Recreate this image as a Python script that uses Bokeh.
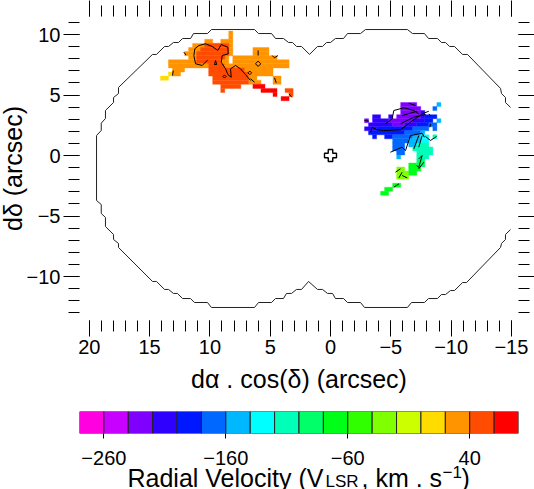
from bokeh.plotting import figure
from bokeh.layouts import column
from bokeh.models import (ColumnDataSource, FixedTicker, LinearAxis, LinearColorMapper,
                          Label, Range1d)
from bokeh.transform import transform
from bokeh.embed import file_html
from bokeh.resources import INLINE
import math

FONT = "Liberation Sans"

# colour scale
palette = ["#FF00E0", "#C800FF", "#7F00FF", "#3000FF", "#0018FF", "#0068FF", "#00B8FF", "#00FFFF", "#00FFB8",
           "#00FF68", "#00FF18", "#30FF00", "#80FF00", "#CCFF00", "#FFDC00", "#FF9400", "#FF4C00", "#FF0000"]
vel_edges = list(range(-280, 81, 20))
vel_ticks = [-260, -160, -60, 40]
vel_labels = ["\u2212260", "\u2212160", "\u221260", "40"]

# axes
x_major = [20, 15, 10, 5, 0, -5, -10, -15]
x_labels = ["20", "15", "10", "5", "0", "\u22125", "\u221210", "\u221215"]
x_minor = list(range(-15, 21))
y_major = [10, 5, 0, -5, -10]
y_labels = ["10", "5", "0", "\u22125", "\u221210"]
y_minor = list(range(-13, 12))

# synthesised beam / field outline (arcsec)
field_ra = [-14.93, -14.51, -14.51, -14.18, -14.10, -11.36, -10.95, -10.28, -9.87, -9.54, -9.20, -8.87, -8.13, -7.79,
            -6.80, -6.38, -2.90, -2.49, -1.41, -1.08, -0.41, 0.00, 0.33, 0.66, 1.08, 1.74, 2.40, 2.82, 3.15, 3.48,
            3.90, 4.56, 4.89, 5.97, 6.30, 9.87, 10.20, 11.36, 11.60, 12.27, 12.60, 13.02, 13.43, 13.76, 14.43, 14.76,
            17.58, 17.58, 17.99, 17.99, 18.66, 18.66, 19.01, 19.01, 19.40, 19.40, 19.01, 19.01, 18.66, 18.66, 17.99,
            17.99, 17.58, 17.58, 14.76, 14.43, 13.76, 13.43, 13.02, 12.69, 12.27, 11.61, 11.28, 10.20, 9.87, 6.30,
            5.97, 4.89, 4.56, 3.90, 3.65, 3.23, 2.82, 2.40, 1.82, 1.08, 0.66, 0.25, -0.17, -0.41, -1.08, -1.41, -2.49,
            -2.82, -6.38, -6.72, -7.79, -8.13, -8.87, -9.20, -9.54, -9.95, -10.28, -10.95, -11.28, -14.10, -14.18,
            -14.51, -14.51, -14.93]
field_dec = [3.97, 4.38, 4.79, 5.12, 5.54, 8.35, 8.35, 9.01, 9.01, 9.34, 9.34, 9.67, 9.67, 10.08,
             10.08, 10.41, 10.41, 10.08, 10.08, 9.67, 9.67, 9.34, 9.34, 9.01, 9.01, 8.35, 9.01, 9.01, 9.34, 9.34,
             9.67, 9.67, 10.08, 10.08, 10.41, 10.41, 10.08, 10.08, 9.67, 9.67, 9.34, 9.34, 9.01, 9.01, 8.35, 8.35,
             5.62, 5.12, 4.79, 4.38, 3.72, 3.06, 2.67, 2.07, 1.65, -3.72, -4.05, -4.79, -5.12, -5.87, -6.53,
             -6.94, -7.27, -7.60, -10.41, -10.41, -11.07, -11.07, -11.40, -11.40, -11.82, -11.82, -12.15, -12.15, -12.56, -12.56,
             -12.15, -12.15, -11.82, -11.82, -11.40, -11.40, -11.07, -11.07, -10.41, -11.07, -11.07, -11.40, -11.40, -11.82, -11.82, -12.15, -12.15,
             -12.56, -12.56, -12.15, -12.15, -11.82, -11.82, -11.49, -11.49, -11.16, -11.16, -10.50, -10.50, -7.60, -7.27,
             -6.94, -6.53, -6.12]

# velocity map: runs of pixels (row, first column, end column, velocity in km/s)
north_dec0 = 10.11
north_ra0 = 14.10
north_dec_step = 0.338
north_runs = [
    (0, 17, 18, 30), (1, 17, 18, 30),
    (2, 11, 13, 30), (2, 15, 18, 30),
    (3, 8, 18, 30), (3, 11, 17, 50),
    (4, 7, 18, 30), (4, 10, 17, 50), (4, 23, 27, 30),
    (5, 6, 7, 30), (5, 7, 18, 30), (5, 9, 17, 50), (5, 23, 27, 30),
    (6, 7, 17, 30), (6, 9, 16, 50), (6, 18, 29, 30),
    (7, 2, 17, 30), (7, 9, 15, 50), (7, 18, 32, 30),
    (8, 2, 12, 30), (8, 12, 16, 50), (8, 16, 32, 30),
    (9, 3, 6, 30), (9, 12, 21, 50), (9, 21, 28, 30),
    (10, 2, 3, 10), (10, 3, 5, 30), (10, 12, 22, 50), (10, 22, 28, 30),
    (11, 0, 2, 10), (11, 13, 22, 50), (11, 22, 24, 30), (11, 28, 30, 30),
    (12, 13, 22, 50), (12, 22, 25, 30), (12, 28, 30, 30),
    (13, 15, 20, 50), (13, 23, 26, 70),
    (14, 15, 16, 50), (14, 25, 29, 70), (14, 31, 33, 50),
    (15, 28, 29, 70), (15, 32, 33, 50),
    (16, 30, 32, 70),
]
west_dec0 = 4.21
west_ra0 = -2.82
west_dec_step = 1 / 3
west_runs = [
    (0, 9, 13, -230), (0, 18, 19, -150),
    (1, 9, 14, -230), (1, 17, 18, -170),
    (2, 9, 14, -230), (2, 14, 15, -210),
    (3, 2, 4, -210), (3, 6, 7, -210), (3, 8, 14, -230), (3, 14, 15, -210), (3, 15, 18, -190),
    (4, 0, 1, -230), (4, 2, 6, -210), (4, 6, 12, -230), (4, 12, 15, -210), (4, 15, 17, -190), (4, 18, 19, -150),
    (5, 1, 7, -210), (5, 7, 10, -230), (5, 10, 13, -210), (5, 13, 16, -190), (5, 16, 18, -170),
    (6, 0, 3, -210), (6, 3, 12, -190), (6, 12, 16, -170), (6, 17, 18, -170),
    (7, 1, 10, -190), (7, 10, 14, -170), (7, 14, 15, -150),
    (8, 2, 3, -190), (8, 5, 7, -190), (8, 7, 12, -170), (8, 12, 14, -150), (8, 14, 16, -130), (8, 17, 18, -110),
    (9, 7, 11, -170), (9, 11, 14, -150), (9, 14, 16, -130),
    (10, 7, 10, -170), (10, 11, 13, -150), (10, 13, 16, -110),
    (11, 7, 10, -170), (11, 12, 17, -110),
    (12, 8, 10, -170), (12, 13, 17, -110),
    (13, 8, 9, -150), (13, 13, 16, -110),
    (14, 13, 15, -90),
    (15, 11, 13, -70), (15, 13, 15, -90),
    (16, 8, 10, -30), (16, 11, 14, -70),
    (17, 8, 11, -30), (17, 11, 13, -70),
    (18, 8, 11, -30),
    (20, 7, 9, -70),
    (21, 5, 7, -70),
    (22, 4, 6, -70),
]

# velocity contours (arcsec)
contours_ra = [
    [11.33, 11.25, 10.91, 10.36, 9.81, 9.34, 9.06, 8.51, 8.48, 8.98, 9.06, 8.70, 8.51, 8.23, 8.29, 7.87, 7.46, 7.05, 6.63],
    [11.33, 11.19, 10.64, 10.17],
    [6.22, 6.00, 5.78, 6.00, 6.22],
    [6.00, 6.00],
    [9.53, 9.62, 9.44, 9.53],
    [8.92, 8.79, 8.66, 8.79, 8.92],
    [6.84, 6.69, 6.54, 6.69, 6.84],
    [6.63, 6.30],
    [4.83, 4.64, 4.36],
    [4.64, 4.50],
    [13.04, 13.10],
    [12.16, 11.98],
    [3.45, 3.20],
    [-4.56, -5.11, -5.25, -6.08, -6.91, -7.32],
    [-3.32, -3.45, -3.87, -4.42, -5.80, -6.63, -7.60, -8.15],
    [-5.94, -7.19],
    [-5.80, -6.91, -7.88],
    [-6.49, -7.05],
    [-4.97, -5.94, -6.22, -6.63, -7.60, -7.79],
    [-6.91, -7.32],
    [-7.32, -7.60],
    [-7.88, -8.29, -8.79],
    [-7.32, -7.60, -7.32, -7.13],
    [-7.32, -7.74],
    [-5.39, -5.80],
    [-5.67, -5.94],
    [-5.94, -6.36],
    [-5.25, -5.67],
    [-8.15, -8.29],
    [-8.29, -8.24],
    [-2.82, -3.18],
]
contours_dec = [
    [8.26, 8.82, 9.09, 9.23, 9.01, 8.68, 9.17, 8.95, 8.40, 8.26, 7.71, 7.16, 6.69, 6.47, 7.16, 7.44, 7.16, 6.69, 6.20],
    [8.26, 7.58, 7.44, 7.91],
    [7.58, 7.80, 7.58, 7.36, 7.58],
    [8.68, 8.26],
    [7.85, 7.52, 7.52, 7.85],
    [6.53, 6.66, 6.53, 6.40, 6.53],
    [6.83, 6.98, 6.83, 6.68, 6.83],
    [6.34, 6.06],
    [8.26, 8.07, 8.26],
    [6.42, 6.00],
    [7.02, 6.61],
    [8.54, 8.30],
    [5.10, 4.80],
    [2.62, 3.03, 3.72, 3.94, 3.72, 3.44],
    [1.93, 2.34, 2.12, 2.06, 2.12, 2.75, 3.44, 3.66],
    [3.30, 3.66],
    [2.62, 3.17, 3.39],
    [4.32, 4.13],
    [0.27, 0.69, 0.41, 1.65, 1.84, 1.51],
    [0.55, 1.65],
    [0.69, 1.65],
    [1.57, 1.24, 1.57],
    [-0.28, 0.00, -0.97, -0.83],
    [-1.10, -0.55],
    [-1.38, -1.10],
    [-1.85, -1.38],
    [-1.65, -1.85],
    [-2.62, -2.34],
    [3.44, 3.30],
    [2.62, 2.34],
    [2.89, 2.84],
]

# reference position
centre_ra = [0.0]
centre_dec = [0.0]

mapper = LinearColorMapper(palette=palette, low=vel_edges[0], high=vel_edges[-1])


def expand(runs, ra0, dec0, dstep):
    out = dict(left=[], right=[], top=[], bottom=[], v=[])
    for row, c1, c2, v in runs:
        out["left"].append(ra0 - c1 / 3)
        out["right"].append(ra0 - c2 / 3)
        out["top"].append(dec0 - row * dstep + dstep / 2)
        out["bottom"].append(dec0 - row * dstep - dstep / 2)
        out["v"].append(v)
    return out


def style_axis(ax, labels=None, ticks=None, minor=None, tick_out=16, minor_out=11):
    ax.axis_line_color = None
    ax.major_tick_in = 0
    ax.minor_tick_in = 0
    ax.major_tick_out = tick_out
    ax.minor_tick_out = minor_out
    ax.major_tick_line_color = "black"
    ax.minor_tick_line_color = "black"
    ax.major_tick_line_width = 1
    ax.minor_tick_line_width = 1
    ax.ticker = FixedTicker(ticks=ticks, minor_ticks=minor)
    if labels:
        ax.major_label_overrides = dict(zip(ticks, labels))
        ax.major_label_text_font = FONT
        ax.major_label_text_font_size = "20px"
        ax.major_label_text_color = "black"
    else:
        ax.major_label_overrides = {t: "" for t in ticks}
        ax.major_label_text_font_size = "0px"
        ax.major_label_standoff = 0


def overlay(width, height, left_px, top_px):
    f = figure(width=width, height=height, output_backend="svg", toolbar_location=None,
               x_range=Range1d(0, width), y_range=Range1d(0, height),
               x_axis_location=None, y_axis_location=None,
               min_border_left=0, min_border_right=0, min_border_top=0, min_border_bottom=0,
               outline_line_color=None, background_fill_color=None, border_fill_color=None,
               styles={"position": "absolute", "left": f"{left_px}px", "top": f"{top_px}px"})
    f.grid.visible = False
    return f


PX = 12.06
PY = 12.1
p = figure(width=534, height=405, output_backend="svg", toolbar_location=None,
           x_range=Range1d((330 - 79) / PX, (330 - 518) / PX),
           y_range=Range1d((155 - 320) / PY, (155 - 16) / PY),
           x_axis_location=None, y_axis_location=None,
           min_border_left=79, min_border_right=16, min_border_top=16, min_border_bottom=85,
           outline_line_color=None, background_fill_color="white", border_fill_color="white")
p.grid.visible = False

left = LinearAxis()
style_axis(left, y_labels, y_major, y_minor)
left.major_label_standoff = 3
left.major_label_orientation = "horizontal"
p.add_layout(left, "left")

bottom = LinearAxis()
style_axis(bottom, x_labels, x_major, x_minor)
bottom.axis_label = "d\u03b1 . cos(\u03b4) (arcsec)"
bottom.axis_label_text_font = FONT
bottom.axis_label_text_font_size = "25px"
bottom.axis_label_text_font_style = "normal"
bottom.axis_label_text_color = "black"
bottom.axis_label_standoff = 8
bottom.major_label_standoff = 3
p.add_layout(bottom, "below")

top = LinearAxis()
style_axis(top, None, x_major, x_minor)
p.add_layout(top, "above")
right = LinearAxis()
style_axis(right, None, y_major, y_minor)
p.add_layout(right, "right")

for data in (expand(north_runs, north_ra0, north_dec0, north_dec_step),
             expand(west_runs, west_ra0, west_dec0, west_dec_step)):
    p.quad(left="left", right="right", top="top", bottom="bottom", source=ColumnDataSource(data),
           fill_color=transform("v", mapper), line_color=transform("v", mapper), line_width=0.4)

p.multi_line(contours_ra, contours_dec, line_color="black", line_width=1)
p.line(field_ra, field_dec, line_color="#222222", line_width=1)
p.scatter(centre_ra, centre_dec, marker="plus", size=12, fill_color="white", line_color="black", line_width=1.4)

# colour bar
cb = figure(width=534, height=69, output_backend="svg", toolbar_location=None,
            x_range=Range1d(vel_edges[0], vel_edges[-1]), y_range=Range1d(0, 1),
            x_axis_location=None, y_axis_location=None,
            min_border_left=79, min_border_right=16, min_border_top=6, min_border_bottom=41,
            outline_line_color=None, background_fill_color="white", border_fill_color="white")
cb.grid.visible = False
cb.quad(left=vel_edges[:-1], right=vel_edges[1:], bottom=[0] * len(palette), top=[1] * len(palette),
        fill_color=palette, line_color="#222222", line_width=1)
cb_axis = LinearAxis()
style_axis(cb_axis, vel_labels, vel_ticks, [], tick_out=5, minor_out=0)
cb_axis.major_label_standoff = 12
cb.add_layout(cb_axis, "below")

# y axis title
yl = overlay(40, 200, 0, 68)
yl.add_layout(Label(x=12, y=100, x_units="screen", y_units="screen", text="d\u03b4 (arcsec)", text_font=FONT,
                    text_font_size="25px", text_color="black", angle=math.pi / 2, text_align="center",
                    text_baseline="alphabetic"))

# colour bar title, set in pieces because of its sub- and superscript
tt = overlay(534, 29, 0, 460)
pieces = [("Radial Velocity (V", 127, 12, 25), ("LSR", 325, 8, 17), (", km . s", 361, 12, 25),
          ("\u22121", 442, 18, 17), (")", 461, 12, 25)]
for txt, x, y, size in pieces:
    tt.add_layout(Label(x=x, y=y, x_units="screen", y_units="screen", text=txt, text_font=FONT,
                        text_font_size=f"{size}px", text_color="black", text_baseline="alphabetic"))

page = column(p, cb, spacing=0, styles={"position": "absolute", "left": "0px", "top": "0px"})
open("out.html", "w").write(file_html([page, yl, tt], INLINE))
